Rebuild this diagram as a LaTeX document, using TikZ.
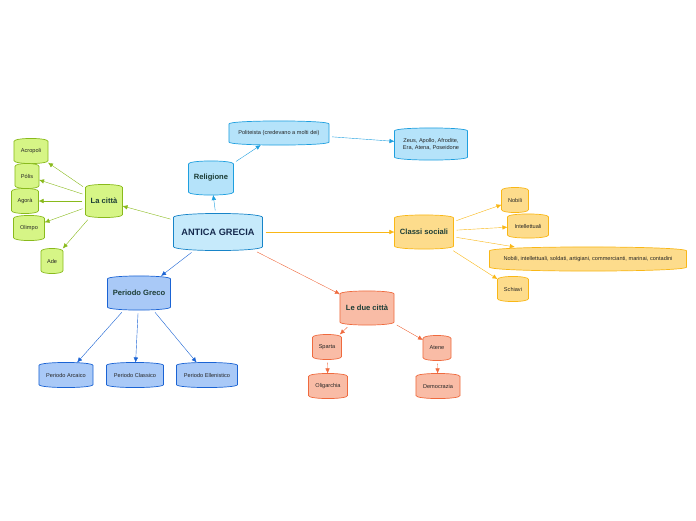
\documentclass[tikz,border=0pt]{standalone}
\usepackage{fontspec}
\setmainfont{Liberation Sans}
\usetikzlibrary{arrows.meta,backgrounds,calc}

\definecolor{bluefill}{HTML}{B5E3FA}
\definecolor{blueline}{HTML}{1E9FDF}
\definecolor{mainline}{HTML}{1784C8}
\definecolor{mainfill}{HTML}{C6EAFB}
\definecolor{navyfill}{HTML}{A9C9F7}
\definecolor{navyline}{HTML}{1A63D4}
\definecolor{greenfill}{HTML}{D6F586}
\definecolor{greenline}{HTML}{89BA1C}
\definecolor{yellowfill}{HTML}{FDDC8C}
\definecolor{yellowline}{HTML}{F9B716}
\definecolor{redfill}{HTML}{F9BCA6}
\definecolor{redline}{HTML}{EF6A3E}
\definecolor{headtext}{HTML}{1C3D36}
\definecolor{maintext}{HTML}{14294D}

\begin{document}
\begin{tikzpicture}[x=1pt,y=-1pt,>={Latex[length=5pt,width=4.5pt]},shorten <=3pt,line width=1.1pt,
    leaf/.style={inner sep=1pt,align=center,text=black!85,
      font=\fontsize{5.6}{6.7}\selectfont,minimum height=24pt},
    head/.style={inner sep=1pt,align=center,text=headtext,
      font=\bfseries\fontsize{7.6}{9}\selectfont,minimum height=33pt},
    root/.style={inner sep=1pt,align=center,text=maintext,
      font=\bfseries\fontsize{9.2}{11}\selectfont,minimum height=36pt,minimum width=88pt}]

  \useasboundingbox (0,0) rectangle (696,520);

  % centro
  \node[root] (anti) at (218,232) {ANTICA GRECIA};

  % religione
  \node[head,minimum width=44pt] (reli) at (211,178) {Religione};
  \node[leaf,minimum width=99pt,minimum height=23pt] (poli) at (279,133) {Politeista (credevano a molti dei)};
  \node[leaf,minimum width=72pt,minimum height=31pt] (dei) at (431,144) {Zeus, Apollo, Afrodite,\\Era, Atena, Poseidone};

  % classi sociali
  \node[head,minimum width=58pt] (clas) at (424,232) {Classi sociali};
  \node[leaf,minimum width=26pt] (nobi) at (515,200) {Nobili};
  \node[leaf,minimum width=40pt,minimum height=23pt] (inte) at (528,226) {Intellettuali};
  \node[leaf,minimum width=196pt,minimum height=23pt] (tutti) at (588,259) {Nobili, intellettuali, soldati, artigiani, commercianti, marinai, contadini};
  \node[leaf,minimum width=30pt] (schi) at (513,289) {Schiavi};

  % le due citta
  \node[head,minimum width=53pt] (due) at (367,308) {Le due città};
  \node[leaf,minimum width=28pt] (spar) at (327,347) {Sparta};
  \node[leaf,minimum width=27pt] (aten) at (437,348) {Atene};
  \node[leaf,minimum width=38pt] (olig) at (328,386) {Oligarchia};
  \node[leaf,minimum width=43pt] (demo) at (438,386) {Democrazia};

  % periodi
  \node[head,minimum width=62pt] (peri) at (139,293) {Periodo Greco};
  \node[leaf,minimum width=53pt] (arca) at (66,375) {Periodo Arcaico};
  \node[leaf,minimum width=56pt] (clsc) at (135,375) {Periodo Classico};
  \node[leaf,minimum width=60pt] (elle) at (207,375) {Periodo Ellenistico};

  % la citta
  \node[head,minimum width=36pt,minimum height=32pt] (citt) at (104,201) {La città};
  \node[leaf,minimum width=33pt] (acro) at (31,151) {Acropoli};
  \node[leaf,minimum width=23pt] (poli2) at (27,176) {Pólis};
  \node[leaf,minimum width=26pt] (agor) at (25,201) {Agorà};
  \node[leaf,minimum width=30pt] (olim) at (29,228) {Olimpo};
  \node[leaf,minimum width=21pt] (ade) at (52,261) {Ade};

  % forme a botte dietro i testi
  \begin{pgfonlayer}{background}
    \foreach \n/\f/\l/\b in {anti/mainfill/mainline/4,reli/bluefill/blueline/3,
        poli/bluefill/blueline/3,dei/bluefill/blueline/3,
        clas/yellowfill/yellowline/3,nobi/yellowfill/yellowline/3,
        inte/yellowfill/yellowline/3,tutti/yellowfill/yellowline/4,
        schi/yellowfill/yellowline/3,
        due/redfill/redline/3,spar/redfill/redline/3,aten/redfill/redline/3,
        olig/redfill/redline/3,demo/redfill/redline/3,
        peri/navyfill/navyline/3,arca/navyfill/navyline/3,
        clsc/navyfill/navyline/3,elle/navyfill/navyline/3,
        citt/greenfill/greenline/3,acro/greenfill/greenline/3,
        poli2/greenfill/greenline/3,agor/greenfill/greenline/3,
        olim/greenfill/greenline/3,ade/greenfill/greenline/3}
      \path[fill=\f,draw=\l,line width=0.7pt,shorten <=0pt]
        ($(\n.north west)+(0,\b)$) .. controls +(0,-4*\b/3) and +(0,-4*\b/3) ..
        ($(\n.north east)+(0,\b)$) -- ($(\n.south east)+(0,-\b)$)
        .. controls +(0,4*\b/3) and +(0,4*\b/3) .. ($(\n.south west)+(0,-\b)$) -- cycle;
  \end{pgfonlayer}

  \path[->]
    (anti) edge[blueline] (reli)
           edge[yellowline] (clas)
           edge[greenline] (citt)
           edge[navyline] (peri)
           edge[redline] (due)
    (reli) edge[blueline] (poli)
    (poli) edge[blueline] (dei)
    (clas) edge[yellowline] (nobi)
           edge[yellowline] (inte)
           edge[yellowline] (tutti)
           edge[yellowline] (schi)
    (due)  edge[redline] (spar)
           edge[redline] (aten)
    (spar) edge[redline] (olig)
    (aten) edge[redline] (demo)
    (peri) edge[navyline] (arca)
           edge[navyline] (clsc)
           edge[navyline] (elle)
    (citt) edge[greenline] (acro)
           edge[greenline] (poli2)
           edge[greenline] (agor)
           edge[greenline] (olim)
           edge[greenline] (ade);
\end{tikzpicture}
\end{document}
